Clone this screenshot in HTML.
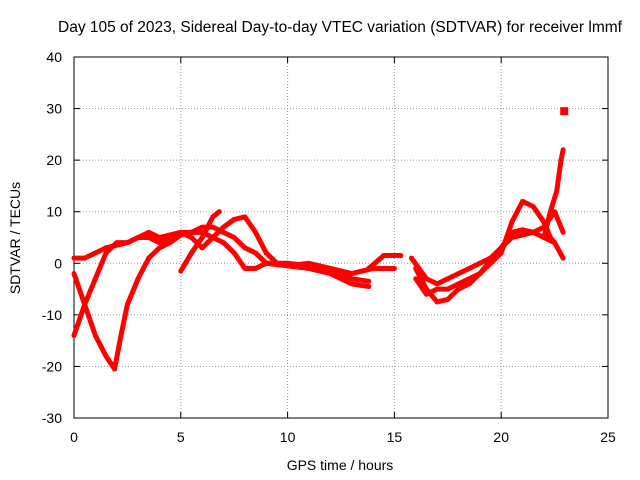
<!DOCTYPE html>
<html><head><meta charset="utf-8"><style>
body{margin:0;background:#fff;}
svg{display:block;font-family:"Liberation Sans",sans-serif;}
</style></head><body>
<svg id="chart" width="640" height="480" xmlns="http://www.w3.org/2000/svg"></svg>
<script>
const xTicks=[0,5,10,15,20,25];
const yTicks=[-30,-20,-10,0,10,20,30,40];
const trackA=[[0,-14],[0.5,-8],[1,-3],[1.5,2],[2,4],[2.5,4],[3,5],[3.5,5],[4,4],[4.5,5],[5,6],[5.5,6],[6,6],[6.5,5],[7,4],[7.5,2],[8,-1],[8.5,-1],[9,0],[10,0],[11,-0.5],[12,-1],[13,-3],[13.8,-3.5]];
const trackB=[[0,-2],[0.5,-8],[1,-14],[1.5,-18],[1.9,-20.5],[2.2,-14],[2.5,-8],[3,-3],[3.5,1],[4,3],[4.5,4],[5,5.5],[5.5,6],[6,7],[6.5,7],[7,6],[7.5,5],[8,3],[8.5,2],[9,0],[10,-0.5],[11,-1],[12,-2],[13,-4],[13.8,-4.5]];
const trackC=[[0,1],[0.5,1],[1,2],[1.5,3],[2,3.5],[2.5,4],[3,5],[3.5,6],[4,5],[4.5,5.5],[5,6],[5.5,5],[6,3],[6.5,5],[7,7],[7.5,8.5],[8,9],[8.5,6],[9,2],[9.5,0],[10,-0.5],[11,0],[12,-1],[13,-2],[14,-1],[15,-1]];
const trackD=[[5,-1.5],[5.5,2],[6,5],[6.5,9],[6.8,10]];
const trackE=[[13.8,-1],[14.5,1.5],[15.3,1.5]];
const trackF=[[15.8,1],[16.5,-3],[17,-4],[17.5,-3],[18,-2],[18.5,-1],[19,0],[19.5,1],[20,3],[20.5,6],[21,6.5],[21.5,6],[22,5],[22.5,4],[22.9,1]];
const trackG=[[16,-1],[16.5,-5],[17,-7.5],[17.5,-7],[18,-5],[18.5,-4],[19,-2],[19.5,0],[20,2],[20.5,8],[21,12],[21.5,11],[22,8],[22.3,5],[22.5,4]];
const trackH=[[16,-3],[16.5,-6],[17,-5],[17.5,-5],[18,-4],[19,-2],[20,3],[20.5,5],[21,5.5],[21.5,6],[22,7],[22.5,10],[22.9,6]];
const trackI=[[22,5],[22.3,10],[22.6,14],[22.8,20],[22.9,22]];
const trackJ=[[22.95,29.5]];
const tracks=[trackA,trackB,trackC,trackD,trackE,trackF,trackG,trackH,trackI,trackJ];
const L=74,R=608,T=57,B=418;
const xs=v=>L+(v-0)/25*(R-L);
const ys=v=>B-(v+30)/70*(B-T);
const svg=document.getElementById('chart');
const NS='http://www.w3.org/2000/svg';
function mk(t,a,p){const e=document.createElementNS(NS,t);for(const k in a)e.setAttribute(k,a[k]);(p||svg).appendChild(e);return e;}
const grid=mk('g',{});


xTicks.forEach(v=>{if(v>0&&v<25)mk('line',{x1:xs(v),x2:xs(v),y1:T,y2:B,stroke:'#999','stroke-dasharray':'1,2','stroke-width':1},grid);});
yTicks.forEach(v=>{if(v>-30&&v<40)mk('line',{x1:L,x2:R,y1:ys(v),y2:ys(v),stroke:'#999','stroke-dasharray':'1,2','stroke-width':1},grid);});
const frame=mk('rect',{x:L,y:T,width:R-L,height:B-T,fill:'none',stroke:'#000'});


xTicks.forEach(v=>{mk('line',{x1:xs(v),x2:xs(v),y1:B,y2:B-6,stroke:'#000'});mk('line',{x1:xs(v),x2:xs(v),y1:T,y2:T+6,stroke:'#000'});
const t=mk('text',{x:xs(v),y:B+24,'text-anchor':'middle','font-size':14});t.textContent=v;

});
yTicks.forEach(v=>{mk('line',{x1:L,x2:L+6,y1:ys(v),y2:ys(v),stroke:'#000'});mk('line',{x1:R,x2:R-6,y1:ys(v),y2:ys(v),stroke:'#000'});
const t=mk('text',{x:L-12,y:ys(v)+5,'text-anchor':'end','font-size':14});t.textContent=v;

});
const series=mk('g',{});


tracks.forEach(tr=>{
 if(tr.length>1){const pl=mk('polyline',{points:tr.map(p=>xs(p[0])+','+ys(p[1])).join(' '),fill:'none',stroke:'#f00','stroke-width':5,'stroke-linejoin':'round','stroke-linecap':'round'},series);
 
 }
 const s=tr.length>1?4:8;
 tr.forEach(p=>{const m=mk('rect',{x:xs(p[0])-s/2,y:ys(p[1])-s/2,width:s,height:s,fill:'#f00'},series);
 
 });
});
const title=mk('text',{x:340,y:32,'text-anchor':'middle','font-size':15.5});
title.textContent='Day 105 of 2023, Sidereal Day-to-day VTEC variation (SDTVAR) for receiver lmmf';


const xl=mk('text',{x:340,y:470,'text-anchor':'middle','font-size':14});
xl.textContent='GPS time / hours';


const yl=mk('text',{x:20,y:238,'text-anchor':'middle','font-size':14,transform:'rotate(-90 20 238)'});
yl.textContent='SDTVAR / TECUs';


</script>
</body></html>
